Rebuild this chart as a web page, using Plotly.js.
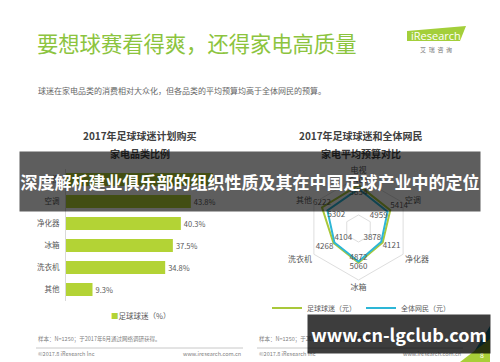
<!DOCTYPE html>
<html>
<head>
<meta charset="utf-8">
<script src="https://cdn.plot.ly/plotly-3.0.1.min.js"></script>
<style>html,body{margin:0;padding:0;background:#fff;}#chart{width:500px;height:362px;}</style>
</head>
<body>
<div id="chart"></div>
<script>
// ---- data ----
const barCategories = ['电视', '空调', '净化器', '冰箱', '洗衣机', '其他'];
const fanPurchaseShare = [51.5, 43.8, 40.3, 37.5, 34.8, 9.3];

const radarCategories = ['电视', '空调', '净化器', '冰箱', '洗衣机', '其他'];
const fanBudget = [6400, 5414, 4121, 5060, 4268, 6222];
const allNetizenBudget = [5854, 4959, 3878, 4872, 4104, 5302];

const seriesNames = ['足球球迷（元）', '全体网民（元）'];
const barSeriesName = '足球球迷（%）';

// ---- helpers (pixel -> paper) ----
const W = 500, H = 362;
const PX = x => x / W;
const PY = y => 1 - y / H;
const FONT = 'Noto Sans CJK SC, Noto Sans, sans-serif';

const close = a => a.concat([a[0]]);
const fanPos = ['top center', 'top right', 'bottom right', 'bottom center', 'bottom left', 'top center'];
const allPos = ['bottom center', 'bottom left', 'top left', 'top center', 'top right', 'bottom right'];

const traces = [
  {
    type: 'bar', orientation: 'h',
    y: barCategories, x: fanPurchaseShare,
    xaxis: 'x', yaxis: 'y',
    marker: {color: '#b3d335'},
    text: fanPurchaseShare.map(v => v.toFixed(1) + '%'),
    textposition: 'outside', cliponaxis: false,
    textfont: {size: 7.5, color: '#595959', family: FONT},
    showlegend: false, hoverinfo: 'none'
  },
  {
    type: 'scatterpolar', mode: 'lines+text',
    r: close(fanBudget), theta: close(radarCategories),
    text: close(fanBudget.map(String)).map((t, i) => i === fanBudget.length ? '' : t),
    textposition: close(fanPos),
    textfont: {size: 8, color: '#595959', family: FONT},
    line: {color: '#a9c83a', width: 2},
    name: seriesNames[0], hoverinfo: 'none'
  },
  {
    type: 'scatterpolar', mode: 'lines+text',
    r: close(allNetizenBudget), theta: close(radarCategories),
    text: close(allNetizenBudget.map(String)).map((t, i) => i === allNetizenBudget.length ? '' : t),
    textposition: close(allPos),
    textfont: {size: 8, color: '#595959', family: FONT},
    line: {color: '#2db6d6', width: 2},
    name: seriesNames[1], hoverinfo: 'none'
  }
];

function poly(pts) {
  return 'M' + pts.map(p => PX(p[0]).toFixed(5) + ',' + PY(p[1]).toFixed(5)).join(' L') + ' Z';
}

const shapes = [
  // iResearch logo
  {type: 'path', xref: 'paper', yref: 'paper', path: poly([[407, 31], [466, 26], [460, 41], [407, 41]]),
   fillcolor: '#a3cf3a', line: {width: 0}, layer: 'above'},
  // footer separator lines
  {type: 'line', xref: 'paper', yref: 'paper', x0: PX(36), x1: PX(243), y0: PY(348), y1: PY(348), line: {color: '#c8c8c8', width: 1}},
  {type: 'line', xref: 'paper', yref: 'paper', x0: PX(257), x1: PX(463), y0: PY(348), y1: PY(348), line: {color: '#c8c8c8', width: 1}},
  // corner decoration
  {type: 'path', xref: 'paper', yref: 'paper', path: poly([[474, 352], [490, 326], [490, 352]]),
   fillcolor: '#1f8fa8', line: {width: 0}, layer: 'above'},
  {type: 'path', xref: 'paper', yref: 'paper', path: poly([[460, 362], [490, 339], [490, 362]]),
   fillcolor: '#a8cf38', line: {width: 0}, layer: 'above'}
];

const annotations = [
  {text: '要想球赛看得爽，还得家电高质量', x: PX(35), y: PY(42), xanchor: 'left', yanchor: 'middle',
   font: {size: 21.3, color: '#8cc43e', family: FONT}},
  {text: '球迷在家电品类的消费相对大众化，但各品类的平均预算均高于全体网民的预算。', x: PX(36), y: PY(90),
   xanchor: 'left', yanchor: 'middle', font: {size: 8, color: '#666666', family: FONT}},
  {text: 'iResearch', x: PX(409), y: PY(35), xanchor: 'left', yanchor: 'middle',
   font: {size: 11, color: '#ffffff', family: 'Open Sans, sans-serif'}},
  {text: '艾  瑞  咨  询', x: PX(436), y: PY(50), xanchor: 'center', yanchor: 'middle',
   font: {size: 6, color: '#777777', family: FONT}},
  {text: '<b>2017年足球球迷计划购买</b>', x: PX(140), y: PY(136), xanchor: 'center', yanchor: 'middle',
   font: {size: 10, color: '#404040', family: FONT}},
  {text: '<b>家电品类比例</b>', x: PX(140), y: PY(153), xanchor: 'center', yanchor: 'middle',
   font: {size: 10, color: '#404040', family: FONT}},
  {text: '<b>2017年足球球迷和全体网民</b>', x: PX(361), y: PY(136), xanchor: 'center', yanchor: 'middle',
   font: {size: 10, color: '#404040', family: FONT}},
  {text: '<b>家电平均预算对比</b>', x: PX(361), y: PY(153), xanchor: 'center', yanchor: 'middle',
   font: {size: 10, color: '#404040', family: FONT}},
  {text: '<span style="color:#b3d335">■</span>' + barSeriesName, x: PX(140), y: PY(315), xanchor: 'center', yanchor: 'middle',
   font: {size: 7.5, color: '#595959', family: FONT}},
  {text: '样本：N=1250；于2017年6月通过网络调研获得。', x: PX(36), y: PY(339), xanchor: 'left', yanchor: 'middle',
   font: {size: 5.5, color: '#808080', family: FONT}},
  {text: '样本：N=1250；于2017年6月通过网络调研获得。', x: PX(257), y: PY(339), xanchor: 'left', yanchor: 'middle',
   font: {size: 5.5, color: '#808080', family: FONT}},
  {text: '©2017.8 iResearch Inc', x: PX(36), y: PY(354), xanchor: 'left', yanchor: 'middle',
   font: {size: 5.5, color: '#808080', family: FONT}},
  {text: 'www.iresearch.com.cn', x: PX(243), y: PY(354), xanchor: 'right', yanchor: 'middle',
   font: {size: 5.5, color: '#808080', family: FONT}},
  {text: '©2017.8 iResearch Inc', x: PX(257), y: PY(354), xanchor: 'left', yanchor: 'middle',
   font: {size: 5.5, color: '#808080', family: FONT}},
  {text: 'www.iresearch.com.cn', x: PX(463), y: PY(354), xanchor: 'right', yanchor: 'middle',
   font: {size: 5.5, color: '#808080', family: FONT}},
  {text: '8', x: PX(482), y: PY(355), xanchor: 'center', yanchor: 'middle',
   font: {size: 7, color: '#ffffff', family: FONT}},
  // overlay banners
  {text: '<b>深度解析建业俱乐部的组织性质及其在中国足球产业中的定位</b>', x: PX(250), y: PY(181.5),
   xanchor: 'center', yanchor: 'middle', width: 460, height: 59, borderpad: 0,
   bgcolor: 'rgba(0,0,0,0.63)', font: {size: 17, color: '#ffffff', family: FONT}},
  {text: '<b>www.cn-lgclub.com</b>', x: PX(399), y: PY(334),
   xanchor: 'center', yanchor: 'middle', width: 182, height: 38, borderpad: 0,
   bgcolor: 'rgba(0,0,0,0.76)', font: {size: 18, color: '#ffffff', family: FONT}}
].map(a => Object.assign({xref: 'paper', yref: 'paper', showarrow: false}, a));

const layout = {
  width: W, height: H,
  margin: {l: 0, r: 0, t: 0, b: 0},
  paper_bgcolor: '#ffffff', plot_bgcolor: 'rgba(0,0,0,0)',
  font: {family: FONT, color: '#595959'},
  xaxis: {domain: [PX(66), PX(237)], range: [0, 60], visible: false, fixedrange: true},
  yaxis: {domain: [PY(300.5), PY(168.5)], type: 'category', autorange: 'reversed',
          showline: true, linecolor: '#d9d9d9', linewidth: 1, ticks: '', showgrid: false, zeroline: false,
          tickfont: {size: 7.5, color: '#595959', family: FONT}, ticklabelstandoff: 4, fixedrange: true},
  bargap: 0.4,
  polar: {
    domain: {x: [PX(307), PX(410)], y: [PY(280), PY(177)]},
    bgcolor: 'rgba(0,0,0,0)',
    gridshape: 'linear',
    radialaxis: {range: [0, 7600], tickvals: [2000], showticklabels: false, ticks: '', showline: false,
                 gridcolor: '#dedede', gridwidth: 1},
    angularaxis: {rotation: 90, direction: 'clockwise', showgrid: false, ticks: '',
                  linecolor: '#dedede', linewidth: 1,
                  tickfont: {size: 8, color: '#595959', family: FONT}}
  },
  showlegend: true,
  legend: {orientation: 'h', x: PX(361), xanchor: 'center', y: PY(308), yanchor: 'middle',
           font: {size: 7, color: '#595959', family: FONT}, bgcolor: 'rgba(0,0,0,0)', itemwidth: 30},
  shapes: shapes,
  annotations: annotations
};

Plotly.newPlot('chart', traces, layout, {staticPlot: true, displayModeBar: false});
</script>
</body>
</html>
